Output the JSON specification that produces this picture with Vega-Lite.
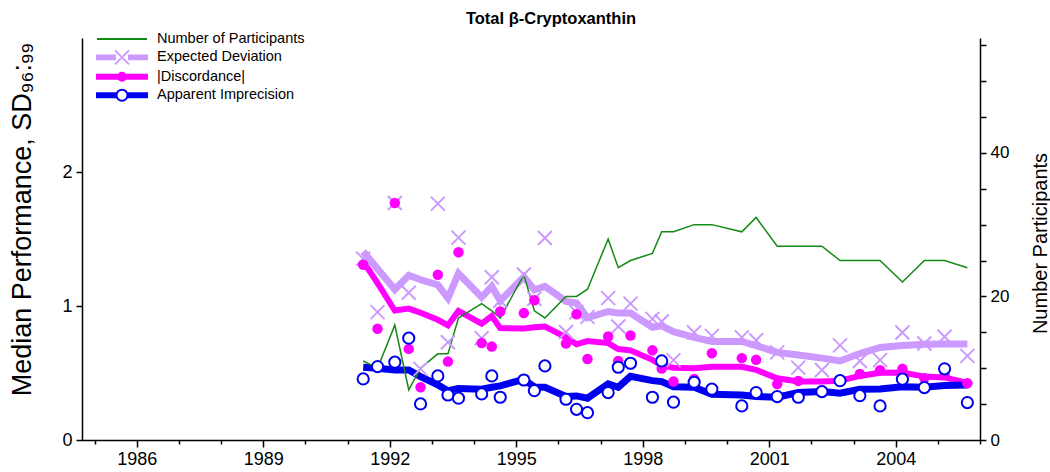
{
  "$schema": "https://vega.github.io/schema/vega-lite/v6.json",
  "width": 898,
  "height": 402,
  "autosize": {"type": "none"},
  "padding": {"left": 82, "top": 38, "right": 70, "bottom": 32},
  "background": "white",
  "config": {"view": {"stroke": null}},
  "title": {"text": "Total β-Cryptoxanthin", "font": "Liberation Sans", "fontSize": 16.5, "fontWeight": "bold", "color": "black", "anchor": "middle", "offset": 4, "dx": 20},
  "datasets": {
    "rounds": [
      {"year": 1991.37, "n": 11, "ed_pt": 1.353, "ed_ln": 1.407, "disc_pt": 1.308, "disc_ln": 1.334, "imp_pt": 0.456, "imp_ln": 0.543},
      {"year": 1991.71, "n": 10, "ed_pt": 0.954, "ed_ln": 1.278, "disc_pt": 0.830, "disc_ln": 1.170, "imp_pt": 0.548, "imp_ln": 0.536},
      {"year": 1992.12, "n": 16, "ed_pt": 1.769, "ed_ln": 1.123, "disc_pt": 1.769, "disc_ln": 0.966, "imp_pt": 0.581, "imp_ln": 0.523},
      {"year": 1992.45, "n": 7, "ed_pt": 1.099, "ed_ln": 1.229, "disc_pt": 0.680, "disc_ln": 0.981, "imp_pt": 0.760, "imp_ln": 0.523},
      {"year": 1992.73, "n": 10, "ed_pt": 0.531, "ed_ln": 1.196, "disc_pt": 0.394, "disc_ln": 0.950, "imp_pt": 0.269, "imp_ln": 0.473},
      {"year": 1993.14, "n": 12, "ed_pt": 1.764, "ed_ln": 1.158, "disc_pt": 1.233, "disc_ln": 0.897, "imp_pt": 0.478, "imp_ln": 0.411},
      {"year": 1993.38, "n": 12, "ed_pt": 0.729, "ed_ln": 1.059, "disc_pt": 0.585, "disc_ln": 0.856, "imp_pt": 0.336, "imp_ln": 0.368},
      {"year": 1993.63, "n": 17, "ed_pt": 1.510, "ed_ln": 1.243, "disc_pt": 1.401, "disc_ln": 0.963, "imp_pt": 0.312, "imp_ln": 0.385},
      {"year": 1994.18, "n": 19, "ed_pt": 0.760, "ed_ln": 1.065, "disc_pt": 0.723, "disc_ln": 0.868, "imp_pt": 0.344, "imp_ln": 0.379},
      {"year": 1994.42, "n": 18, "ed_pt": 1.214, "ed_ln": 1.146, "disc_pt": 0.697, "disc_ln": 0.925, "imp_pt": 0.478, "imp_ln": 0.394},
      {"year": 1994.62, "n": 17, "ed_pt": 1.039, "ed_ln": 1.039, "disc_pt": 0.959, "disc_ln": 0.835, "imp_pt": 0.319, "imp_ln": 0.404},
      {"year": 1995.18, "n": 23, "ed_pt": 1.235, "ed_ln": 1.216, "disc_pt": 0.947, "disc_ln": 0.832, "imp_pt": 0.448, "imp_ln": 0.452},
      {"year": 1995.43, "n": 18, "ed_pt": 1.054, "ed_ln": 1.121, "disc_pt": 1.043, "disc_ln": 0.841, "imp_pt": 0.368, "imp_ln": 0.396},
      {"year": 1995.68, "n": 17, "ed_pt": 1.507, "ed_ln": 1.146, "disc_pt": 0.553, "disc_ln": 0.847, "imp_pt": 0.553, "imp_ln": 0.394},
      {"year": 1996.18, "n": 20, "ed_pt": 0.806, "ed_ln": 1.034, "disc_pt": 0.720, "disc_ln": 0.766, "imp_pt": 0.304, "imp_ln": 0.325},
      {"year": 1996.43, "n": 20, "ed_pt": 0.953, "ed_ln": 1.022, "disc_pt": 0.938, "disc_ln": 0.714, "imp_pt": 0.229, "imp_ln": 0.329},
      {"year": 1996.69, "n": 21, "ed_pt": 0.919, "ed_ln": 0.912, "disc_pt": 0.604, "disc_ln": 0.738, "imp_pt": 0.204, "imp_ln": 0.312},
      {"year": 1997.18, "n": 28, "ed_pt": 1.059, "ed_ln": 0.959, "disc_pt": 0.772, "disc_ln": 0.723, "imp_pt": 0.354, "imp_ln": 0.419},
      {"year": 1997.42, "n": 24, "ed_pt": 0.847, "ed_ln": 0.947, "disc_pt": 0.590, "disc_ln": 0.679, "imp_pt": 0.543, "imp_ln": 0.394},
      {"year": 1997.71, "n": 25, "ed_pt": 1.018, "ed_ln": 0.947, "disc_pt": 0.780, "disc_ln": 0.669, "imp_pt": 0.573, "imp_ln": 0.475},
      {"year": 1998.23, "n": 26, "ed_pt": 0.904, "ed_ln": 0.841, "disc_pt": 0.669, "disc_ln": 0.598, "imp_pt": 0.319, "imp_ln": 0.443},
      {"year": 1998.45, "n": 29, "ed_pt": 0.884, "ed_ln": 0.852, "disc_pt": 0.533, "disc_ln": 0.557, "imp_pt": 0.590, "imp_ln": 0.436},
      {"year": 1998.73, "n": 29, "ed_pt": 0.596, "ed_ln": 0.809, "disc_pt": 0.436, "disc_ln": 0.540, "imp_pt": 0.282, "imp_ln": 0.398},
      {"year": 1999.22, "n": 30, "ed_pt": 0.802, "ed_ln": 0.766, "disc_pt": 0.456, "disc_ln": 0.536, "imp_pt": 0.431, "imp_ln": 0.394},
      {"year": 1999.64, "n": 30, "ed_pt": 0.777, "ed_ln": 0.735, "disc_pt": 0.648, "disc_ln": 0.546, "imp_pt": 0.379, "imp_ln": 0.342},
      {"year": 2000.35, "n": 29, "ed_pt": 0.766, "ed_ln": 0.735, "disc_pt": 0.611, "disc_ln": 0.546, "imp_pt": 0.254, "imp_ln": 0.336},
      {"year": 2000.69, "n": 31, "ed_pt": 0.745, "ed_ln": 0.704, "disc_pt": 0.598, "disc_ln": 0.523, "imp_pt": 0.354, "imp_ln": 0.324},
      {"year": 2001.19, "n": 27, "ed_pt": 0.654, "ed_ln": 0.654, "disc_pt": 0.417, "disc_ln": 0.461, "imp_pt": 0.324, "imp_ln": 0.319},
      {"year": 2001.69, "n": 27, "ed_pt": 0.540, "ed_ln": 0.635, "disc_pt": 0.441, "disc_ln": 0.436, "imp_pt": 0.319, "imp_ln": 0.354},
      {"year": 2002.25, "n": 27, "ed_pt": 0.523, "ed_ln": 0.611, "disc_pt": 0.361, "disc_ln": 0.436, "imp_pt": 0.361, "imp_ln": 0.361},
      {"year": 2002.68, "n": 25, "ed_pt": 0.706, "ed_ln": 0.590, "disc_pt": 0.443, "disc_ln": 0.442, "imp_pt": 0.443, "imp_ln": 0.349},
      {"year": 2003.15, "n": 25, "ed_pt": 0.589, "ed_ln": 0.645, "disc_pt": 0.492, "disc_ln": 0.478, "imp_pt": 0.331, "imp_ln": 0.379},
      {"year": 2003.63, "n": 25, "ed_pt": 0.596, "ed_ln": 0.691, "disc_pt": 0.521, "disc_ln": 0.501, "imp_pt": 0.254, "imp_ln": 0.381},
      {"year": 2004.16, "n": 22, "ed_pt": 0.802, "ed_ln": 0.706, "disc_pt": 0.531, "disc_ln": 0.504, "imp_pt": 0.454, "imp_ln": 0.398},
      {"year": 2004.68, "n": 25, "ed_pt": 0.720, "ed_ln": 0.714, "disc_pt": 0.461, "disc_ln": 0.473, "imp_pt": 0.391, "imp_ln": 0.394},
      {"year": 2005.16, "n": 25, "ed_pt": 0.770, "ed_ln": 0.716, "disc_pt": 0.486, "disc_ln": 0.467, "imp_pt": 0.531, "imp_ln": 0.406},
      {"year": 2005.70, "n": 24, "ed_pt": 0.628, "ed_ln": 0.716, "disc_pt": 0.424, "disc_ln": 0.426, "imp_pt": 0.279, "imp_ln": 0.411}
    ],
    "legend": [
      {"series": "Number of Participants"},
      {"series": "Expected Deviation"},
      {"series": "|Discordance|"},
      {"series": "Apparent Imprecision"}
    ]
  },
  "data": {"name": "rounds"},
  "encoding": {
    "x": {
      "field": "year", "type": "quantitative",
      "scale": {"domain": [1984.7, 2006], "nice": false, "zero": false},
      "axis": {
        "title": null,
        "values": [1985, 1986, 1987, 1988, 1989, 1990, 1991, 1992, 1993, 1994, 1995, 1996, 1997, 1998, 1999, 2000, 2001, 2002, 2003, 2004, 2005, 2006],
        "format": "d",
        "labelExpr": "datum.value % 3 == 0 && datum.value < 2006 ? datum.label : ''",
        "tickSize": {"condition": {"test": "datum.value % 3 == 0", "value": 7}, "value": 4},
        "labelPadding": 3,
        "labelFont": "Liberation Sans", "labelFontSize": 18, "labelColor": "black",
        "domainColor": "black", "domainWidth": 1.5, "tickColor": "black", "tickWidth": 1.5,
        "grid": false, "labelFlush": false, "labelOverlap": false
      }
    }
  },
  "layer": [
    {
      "layer": [
        {
          "mark": {"type": "line", "color": "#cc99ff", "strokeWidth": 7, "strokeJoin": "miter"},
          "encoding": {"y": {"field": "ed_ln", "type": "quantitative", "scale": {"domain": [0, 3], "nice": false, "zero": true},
            "axis": {"title": "Median Performance, SD₉₆:₉₉", "orient": "left", "values": [0, 0.25, 0.5, 0.75, 1, 1.25, 1.5, 1.75, 2, 2.25, 2.5, 2.75], "format": "d", "labelExpr": "datum.value % 1 == 0 ? datum.label : ''", "tickSize": 6, "labelPadding": 4, "labelFont": "Liberation Sans", "labelFontSize": 18, "labelColor": "black", "domainColor": "black", "domainWidth": 1.5, "tickColor": "black", "tickWidth": 1.5, "grid": false, "titleFont": "Liberation Sans", "titleFontSize": 27, "titleFontWeight": "normal", "titleColor": "black", "titleX": -60, "titleY": 181, "titleAngle": -90, "titleAlign": "center", "titleBaseline": "middle", "labelFlush": false}}}
        },
        {
          "mark": {"type": "line", "color": "#ff00ff", "strokeWidth": 6, "strokeJoin": "miter"},
          "encoding": {"y": {"field": "disc_ln", "type": "quantitative", "scale": {"domain": [0, 3], "nice": false, "zero": true},
            "axis": {"title": "Median Performance, SD₉₆:₉₉", "orient": "left", "values": [0, 0.25, 0.5, 0.75, 1, 1.25, 1.5, 1.75, 2, 2.25, 2.5, 2.75], "format": "d", "labelExpr": "datum.value % 1 == 0 ? datum.label : ''", "tickSize": 6, "labelPadding": 4, "labelFont": "Liberation Sans", "labelFontSize": 18, "labelColor": "black", "domainColor": "black", "domainWidth": 1.5, "tickColor": "black", "tickWidth": 1.5, "grid": false, "titleFont": "Liberation Sans", "titleFontSize": 27, "titleFontWeight": "normal", "titleColor": "black", "titleX": -60, "titleY": 181, "titleAngle": -90, "titleAlign": "center", "titleBaseline": "middle", "labelFlush": false}}}
        },
        {
          "mark": {"type": "line", "color": "#0000f0", "strokeWidth": 7, "strokeJoin": "miter"},
          "encoding": {"y": {"field": "imp_ln", "type": "quantitative", "scale": {"domain": [0, 3], "nice": false, "zero": true},
            "axis": {"title": "Median Performance, SD₉₆:₉₉", "orient": "left", "values": [0, 0.25, 0.5, 0.75, 1, 1.25, 1.5, 1.75, 2, 2.25, 2.5, 2.75], "format": "d", "labelExpr": "datum.value % 1 == 0 ? datum.label : ''", "tickSize": 6, "labelPadding": 4, "labelFont": "Liberation Sans", "labelFontSize": 18, "labelColor": "black", "domainColor": "black", "domainWidth": 1.5, "tickColor": "black", "tickWidth": 1.5, "grid": false, "titleFont": "Liberation Sans", "titleFontSize": 27, "titleFontWeight": "normal", "titleColor": "black", "titleX": -60, "titleY": 181, "titleAngle": -90, "titleAlign": "center", "titleBaseline": "middle", "labelFlush": false}}}
        }
      ]
    },
    {
      "mark": {"type": "line", "color": "#138a13", "strokeWidth": 1.5},
      "encoding": {"y": {"field": "n", "type": "quantitative", "scale": {"domain": [0, 56], "nice": false, "zero": true},
        "axis": {"title": "Number Participants", "orient": "right", "values": [0, 5, 10, 15, 20, 25, 30, 35, 40, 45, 50, 55], "labelExpr": "datum.value % 20 == 0 ? datum.label : ''", "tickSize": 6, "labelPadding": 4, "labelFont": "Liberation Sans", "labelFontSize": 17, "labelColor": "black", "domainColor": "black", "domainWidth": 1.5, "tickColor": "black", "tickWidth": 1.5, "grid": false, "titleFont": "Liberation Sans", "titleFontSize": 20, "titleFontWeight": "normal", "titleColor": "black", "titleX": 60, "titleY": 205, "titleAngle": -90, "titleAlign": "center", "titleBaseline": "middle", "labelFlush": false}}}
    },
    {
      "layer": [
        {
          "mark": {"type": "point", "shape": "M-1,-1L1,1M-1,1L1,-1", "size": 196, "filled": false, "color": "#cc99ff", "strokeWidth": 2, "opacity": 1},
          "encoding": {"y": {"field": "ed_pt", "type": "quantitative", "scale": {"domain": [0, 3], "nice": false, "zero": true}, "axis": null}}
        },
        {
          "mark": {"type": "circle", "size": 110, "color": "#ff00ff", "opacity": 1},
          "encoding": {"y": {"field": "disc_pt", "type": "quantitative", "scale": {"domain": [0, 3], "nice": false, "zero": true}, "axis": null}}
        },
        {
          "mark": {"type": "point", "shape": "circle", "size": 125, "filled": true, "fill": "white", "stroke": "#0000f0", "strokeWidth": 2, "opacity": 1},
          "encoding": {"y": {"field": "imp_pt", "type": "quantitative", "scale": {"domain": [0, 3], "nice": false, "zero": true}, "axis": null}}
        },
        {
          "data": {"name": "legend"},
          "mark": {"type": "point", "filled": false, "size": 0, "strokeWidth": 2, "opacity": 1},
          "encoding": {
            "color": {"field": "series", "type": "nominal",
              "scale": {"domain": ["Number of Participants", "Expected Deviation", "|Discordance|", "Apparent Imprecision"], "range": ["#138a13", "#cc99ff", "#ff00ff", "#0000f0"]},
              "legend": {"orient": "none", "legendX": 32, "legendY": -7, "title": null, "padding": 0, "labelFont": "Liberation Sans", "labelFontSize": 14.5, "labelColor": "black", "labelLimit": 400, "symbolSize": 196, "symbolStrokeWidth": 2, "symbolOpacity": 1, "rowPadding": 0.4, "labelOffset": 27}},
            "shape": {"field": "series", "type": "nominal",
              "scale": {"domain": ["Number of Participants", "Expected Deviation", "|Discordance|", "Apparent Imprecision"],
                "range": [
                  "M-3.571,0H3.571",
                  "M-3.571,-0.28H-1V0.28H-3.571Z M-3.571,0H-1 M1,-0.28H3.571V0.28H1Z M1,0H3.571 M-1,-1L1,1M-1,1L1,-1",
                  "M-3.571,-0.28H3.571V0.28H-3.571Z M-3.571,0H3.571 M-0.571,0A0.571,0.571,0,1,0,0.571,0A0.571,0.571,0,1,0,-0.571,0Z M-0.286,0A0.286,0.286,0,1,0,0.286,0A0.286,0.286,0,1,0,-0.286,0Z M-0.08,0A0.08,0.08,0,1,0,0.08,0A0.08,0.08,0,1,0,-0.08,0Z",
                  "M-3.571,-0.28H-0.86V0.28H-3.571Z M-3.571,0H-0.86 M0.86,-0.28H3.571V0.28H0.86Z M0.86,0H3.571 M-0.786,0A0.786,0.786,0,1,0,0.786,0A0.786,0.786,0,1,0,-0.786,0Z"
                ]},
              "legend": {"orient": "none", "legendX": 32, "legendY": -7, "title": null, "padding": 0, "labelFont": "Liberation Sans", "labelFontSize": 14.5, "labelColor": "black", "labelLimit": 400, "symbolSize": 196, "symbolStrokeWidth": 2, "symbolOpacity": 1, "rowPadding": 0.4, "labelOffset": 27}}
          }
        }
      ]
    }
  ],
  "resolve": {"scale": {"y": "independent"}}
}
